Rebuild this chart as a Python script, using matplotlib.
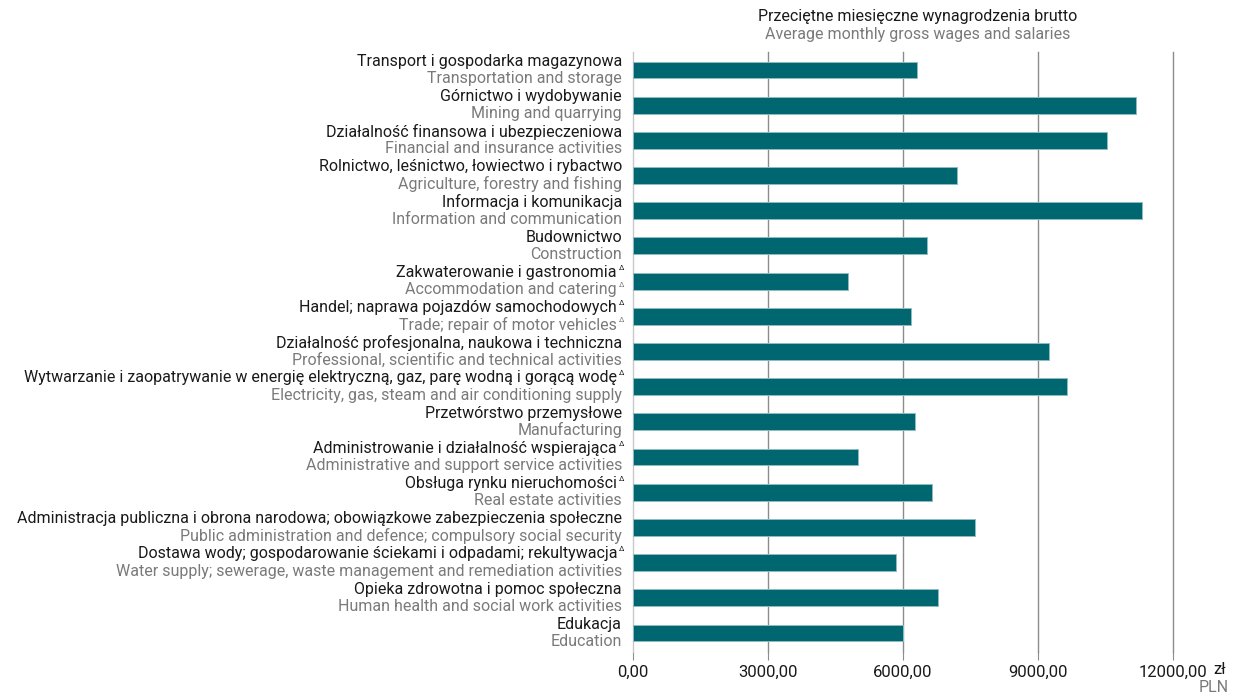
import matplotlib
matplotlib.use("Agg")
import matplotlib.pyplot as plt
import matplotlib.transforms as mtransforms
from matplotlib.ticker import FuncFormatter

plt.rcParams['font.family'] = ['Roboto', 'DejaVu Sans']

# sectors, top to bottom
labels_pl = [
    "Transport i gospodarka magazynowa",
    "Górnictwo i wydobywanie",
    "Działalność finansowa i ubezpieczeniowa",
    "Rolnictwo, leśnictwo, łowiectwo i rybactwo",
    "Informacja i komunikacja",
    "Budownictwo",
    "Zakwaterowanie i gastronomia",
    "Handel; naprawa pojazdów samochodowych",
    "Działalność profesjonalna, naukowa i techniczna",
    "Wytwarzanie i zaopatrywanie w energię elektryczną, gaz, parę wodną i gorącą wodę",
    "Przetwórstwo przemysłowe",
    "Administrowanie i działalność wspierająca",
    "Obsługa rynku nieruchomości",
    "Administracja publiczna i obrona narodowa; obowiązkowe zabezpieczenia społeczne",
    "Dostawa wody; gospodarowanie ściekami i odpadami; rekultywacja",
    "Opieka zdrowotna i pomoc społeczna",
    "Edukacja",
]
labels_en = [
    "Transportation and storage",
    "Mining and quarrying",
    "Financial and insurance activities",
    "Agriculture, forestry and fishing",
    "Information and communication",
    "Construction",
    "Accommodation and catering",
    "Trade; repair of motor vehicles",
    "Professional, scientific and technical activities",
    "Electricity, gas, steam and air conditioning supply",
    "Manufacturing",
    "Administrative and support service activities",
    "Real estate activities",
    "Public administration and defence; compulsory social security",
    "Water supply; sewerage, waste management and remediation activities",
    "Human health and social work activities",
    "Education",
]
# footnote marks (Δ) on polish / english label
mark_pl = [0, 0, 0, 0, 0, 0, 1, 1, 0, 1, 0, 1, 1, 0, 1, 0, 0]
mark_en = [0, 0, 0, 0, 0, 0, 1, 1, 0, 0, 0, 0, 0, 0, 0, 0, 0]
wages = [6310, 11180, 10530, 7200, 11310, 6530, 4780, 6180, 9240,
         9640, 6270, 5000, 6640, 7600, 5840, 6780, 6000]
xticks = [0, 3000, 6000, 9000, 12000]

bar_color = "#006770"
dark = "#1a1a1a"
grey = "#7a7a7a"

fig = plt.figure(figsize=(12.39, 6.95), dpi=100)
ax = fig.add_axes([633/1239, 1-652/695, (1173-633)/1239, 600/695])

ypos = list(range(len(wages)))
ax.barh(ypos, wages, height=0.48, color=bar_color, edgecolor="#8fbcc0",
        linewidth=0.7, zorder=3)

ax.set_xlim(0, 12000)
ax.set_ylim(16.54, -0.51)
ax.set_xticks(xticks)
ax.xaxis.set_major_formatter(FuncFormatter(lambda v, p: f"{v:.2f}".replace(".", ",")))
ax.set_yticks([])
ax.tick_params(axis="x", length=6, color="#8c8c8c", labelsize=12, labelcolor=dark, pad=3)
for v in xticks[1:]:
    ax.axvline(v, color="#8c8c8c", linewidth=1.0, zorder=1, clip_on=False)
for s in ["top", "right", "bottom"]:
    ax.spines[s].set_visible(False)
ax.spines["left"].set_color("#c8c8c8")
ax.spines["left"].set_linewidth(1.0)
ax.xaxis.get_major_ticks()[0].tick1line.set_color("#c8c8c8")

trans = mtransforms.blended_transform_factory(fig.transFigure, ax.transData)
xl = 624/1239
dx = 5/1239
fs = 11.5
for i in ypos:
    for text, mark, dy, col in [(labels_pl[i], mark_pl[i], -0.25, dark),
                                (labels_en[i], mark_en[i], 0.24, grey)]:
        ax.text(xl - dx * mark - 2/1239, i + dy, text, transform=trans,
                ha="right", va="center", fontsize=fs, color=col)
        if mark:
            ax.text(xl, i + dy - 0.13, "\u0394", transform=trans, ha="right",
                    va="center", fontsize=5.5, color=col)

fig.text(918/1239, 1-17/695, "Przeciętne miesięczne wynagrodzenia brutto",
         ha="center", va="center", fontsize=11.5, color=dark)
fig.text(918/1239, 1-34/695, "Average monthly gross wages and salaries",
         ha="center", va="center", fontsize=11.5, color=grey)

fig.text(1213/1239, 1-669/695, "zł", ha="left", va="center", fontsize=12, color=dark)
fig.text(1229/1239, 1-688/695, "PLN", ha="right", va="center", fontsize=11.5, color=grey)

fig.savefig("out.png", dpi=100)
